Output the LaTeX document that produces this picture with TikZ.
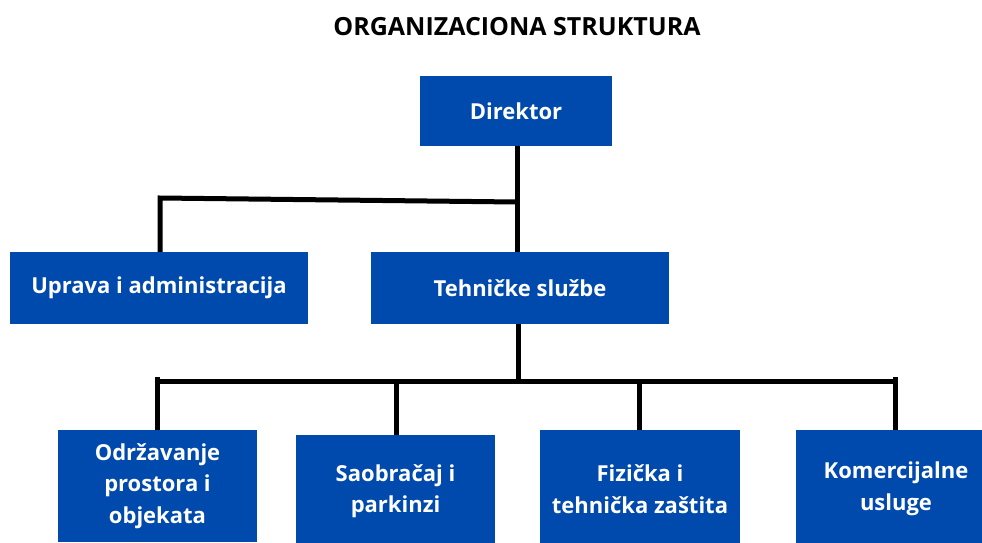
\documentclass[tikz,border=0pt]{standalone}
\usepackage{fontspec}
\setmainfont{Open Sans}
\definecolor{boxblue}{HTML}{004AAD}
\tikzset{
  orgbox/.style={fill=boxblue, draw=none, text=white, font=\bfseries\fontsize{22}{31.5}\selectfont, align=center, inner sep=0pt, anchor=center},
  conn/.style={line width=5pt, draw=black},
}
\begin{document}
\begin{tikzpicture}[x=1pt,y=-1pt]
\useasboundingbox (0,0) rectangle (982,542);
\clip (0,0) rectangle (982,542);
\fill[white] (0,0) rectangle (982,542);
\node[font=\bfseries\fontsize{25}{30}\selectfont, text=black, inner sep=0pt] (title) at (517,27) {ORGANIZACIONA STRUKTURA};
\node[orgbox, minimum width=192pt, minimum height=70pt] (dir) at (516,111) {Direktor};
\node[orgbox, minimum width=298pt, minimum height=72pt] (upr) at (159,288) {Uprava i administracija};
\node[orgbox, minimum width=298pt, minimum height=72pt] (teh) at (520,288) {Tehničke službe};
\node[orgbox, minimum width=199pt, minimum height=112pt] (odr) at (157.5,486) {Održavanje\\prostora i\\objekata};
\node[orgbox, minimum width=199pt, minimum height=112pt] (sao) at (395.5,491) {Saobračaj i\\parkinzi};
\node[orgbox, minimum width=200pt, minimum height=118pt] (fiz) at (640,489) {Fizička i\\tehnička zaštita};
\node[orgbox, minimum width=200pt, minimum height=118pt] (kom) at (896,489) {Komercijalne\\usluge};
% upper connectors
\coordinate (j1) at (517,202);
\coordinate (j1l) at (160,198);
\draw[conn] (dir.south -| j1) -- (j1 |- teh.north);
\draw[conn] (j1) -- (j1l) -- (j1l |- upr.north);
% lower connectors
\coordinate (j2) at (518,381);
\coordinate (barl) at (157,381);
\coordinate (barr) at (895,381);
\draw[conn] (teh.south -| j2) -- (j2);
\draw[conn] (barl) -- (barr);
\draw[conn] (157,377) -- (157,430);
\draw[conn] (396,381) -- (396 ,435);
\draw[conn] (639,381) -- (639,430);
\draw[conn] (895,377) -- (895,430);
\end{tikzpicture}
\end{document}
